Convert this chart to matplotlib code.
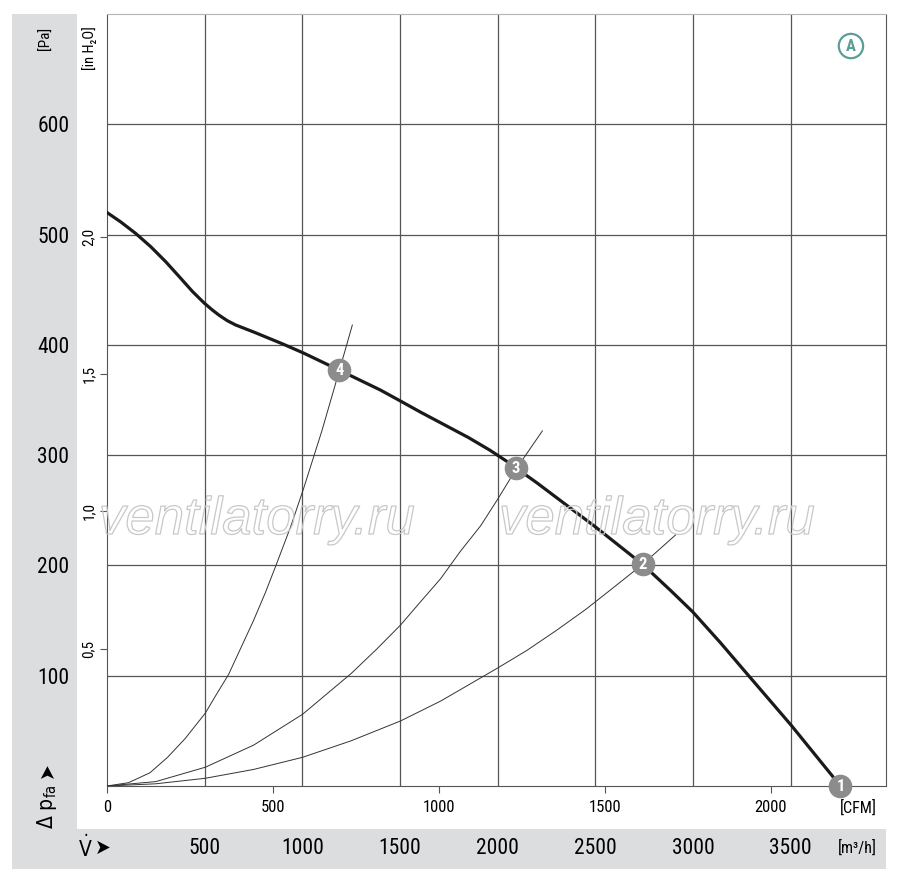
# fan performance curve (pressure vs. air flow) with operating points
import matplotlib
matplotlib.use("Agg")
import matplotlib.pyplot as plt
import matplotlib.patheffects as pe
from matplotlib.patches import Rectangle
from matplotlib.transforms import blended_transform_factory

plt.rcParams['font.family'] = ['Liberation Sans Narrow', 'Roboto Condensed', 'DejaVu Sans']
plt.rcParams['font.stretch'] = 'condensed'

# fan curve, flow in m3/h, pressure in Pa
fan_flow = [0, 70, 147, 224, 300, 369, 437, 497, 540, 573, 615, 659, 753, 904, 1007,
            1190, 1400, 1503, 1605, 1850, 1960, 2050, 2093, 2200, 2320, 2500, 2742,
            2887, 2998, 3140, 3280, 3503, 3755]
fan_pa = [520, 511.5, 501, 489, 475.5, 462, 448.5, 438, 431.5, 427, 422, 418, 411.5,
          400.5, 392.5, 377, 359, 349, 339, 316, 304.5, 294, 288.5, 275, 259, 235, 201,
          177, 158, 130, 101, 55, 0]

# system curves through the operating points
sys4_flow = [0, 110, 220, 310, 400, 503, 560, 622, 690, 750, 810, 865, 940, 1007,
             1100, 1190, 1256]
sys4_pa = [0, 3, 12, 26, 43, 66, 83, 101, 127, 150, 175, 200, 235, 270, 322, 377, 418]
sys3_flow = [0, 250, 503, 750, 1001, 1250, 1380, 1503, 1600, 1708, 1810, 1913, 2000,
             2093, 2229]
sys3_pa = [0, 4, 17, 37, 65, 102, 124, 146, 166, 188, 213, 236, 260, 287, 322]
sys2_flow = [0, 250, 503, 750, 1001, 1250, 1503, 1708, 2000, 2150, 2300, 2450, 2579,
             2742, 2913]
sys2_pa = [0, 2, 7, 15, 26, 41, 59, 77, 107, 123, 141, 160, 178, 201, 228]

op_flow = [3755, 2742, 2093, 1190]
op_pa = [0, 201, 288, 377]
op_labels = ['1', '2', '3', '4']

m3h_ticks = [500, 1000, 1500, 2000, 2500, 3000, 3500]
pa_ticks = [100, 200, 300, 400, 500, 600]
cfm_ticks = [0, 500, 1000, 1500, 2000]
inh2o_ticks = [0.5, 1.0, 1.5, 2.0]
inh2o_labels = ['0,5', '1,0', '1,5', '2,0']

W, H = 900, 880
fig = plt.figure(figsize=(9, 8.8), dpi=100)
band = '#dcdddf'
fig.add_artist(Rectangle((12 / W, 1 - 830 / H), 65 / W, 816 / H, transform=fig.transFigure,
                         color=band, zorder=0, lw=0))
fig.add_artist(Rectangle((12 / W, 1 - 869 / H), 874 / W, 40 / H, transform=fig.transFigure,
                         color=band, zorder=0, lw=0))

ax = fig.add_axes([107 / W, 1 - 786 / H, 779 / W, 772 / H])
ax.set_xlim(0, 3988)
ax.set_ylim(0, 700)

grid_c = '#555555'
ax.set_xticks(m3h_ticks)
ax.set_xticklabels([])
ax.set_yticks(pa_ticks)
ax.set_yticklabels([str(v) for v in pa_ticks], fontsize=15.5)
ax.tick_params(axis='x', length=0)
ax.tick_params(axis='y', length=0, pad=27)
ax.grid(True, color=grid_c, lw=0.9)
ax.set_axisbelow(True)
for s in ['bottom', 'right', 'left']:
    ax.spines[s].set_color(grid_c)
ax.spines['top'].set_color('#b5b5b5')

# m3/h labels in the bottom band
tr = blended_transform_factory(ax.transData, fig.transFigure)
for v in m3h_ticks:
    ax.text(v, 1 - 848 / H, str(v), transform=tr, ha='center', va='center', fontsize=15.5)

# CFM scale
cfm = ax.secondary_xaxis('bottom', functions=(lambda v: v / 1.699, lambda c: c * 1.699))
cfm.set_xticks(cfm_ticks)
cfm.set_xticklabels([str(c) for c in cfm_ticks], fontsize=12)
cfm.tick_params(length=5, color=grid_c, pad=5)
cfm.spines['bottom'].set_visible(False)

# in H2O scale
inh = ax.secondary_yaxis('left', functions=(lambda p: p / 249.09, lambda h: h * 249.09))
inh.set_yticks(inh2o_ticks)
inh.set_yticklabels(inh2o_labels, fontsize=11, rotation=90, va='center')
inh.tick_params(length=5, color=grid_c, pad=3)
inh.spines['left'].set_visible(False)

# watermark
for xc in [257, 657]:
    fig.text(xc / W, 1 - 520 / H, 'ventilatorry.ru', ha='center', va='center',
             fontsize=38, family='Liberation Sans', style='italic', stretch='normal',
             color=(1, 1, 1, 0), zorder=1,
             path_effects=[pe.Stroke(linewidth=0.9, foreground='#c8c8c8')])

ax.plot(sys4_flow, sys4_pa, color='#333333', lw=0.7, zorder=3)
ax.plot(sys3_flow, sys3_pa, color='#333333', lw=0.7, zorder=3)
ax.plot(sys2_flow, sys2_pa, color='#333333', lw=0.7, zorder=3)
ax.plot(fan_flow, fan_pa, color='#1a1a1a', lw=2.3, zorder=4, solid_joinstyle='round')

ax.plot(op_flow, op_pa, 'o', ms=17, color='#8c8c8c', mec='none', clip_on=False, zorder=5)
for v, p, t in zip(op_flow, op_pa, op_labels):
    ax.text(v, p, t, color='white', fontweight='bold', fontsize=12, ha='center',
            va='center', zorder=6, clip_on=False)

teal = '#5b9e97'
ax.text(0.955, 0.9585, 'A', transform=ax.transAxes, ha='center', va='center', color=teal,
        fontweight='bold', fontsize=12,
        bbox=dict(boxstyle='circle,pad=0.28', fc='white', ec=teal, lw=1.6))

# axis units and symbols
fig.text(46 / W, 1 - 38 / H, '[Pa]', rotation=90, ha='center', va='center', fontsize=11)
fig.text(90 / W, 1 - 26 / H, '[in H₂O]', rotation=90, ha='center', va='top', fontsize=10.5)
fig.text(47 / W, 1 - 829 / H, r'$\Delta\ \mathrm{p}_{\mathrm{fa}}$', rotation=90,
         ha='center', va='bottom', fontsize=15)
fig.text(47 / W, 1 - 770 / H, '➤', rotation=90, ha='center', va='center', fontsize=15,
         family='DejaVu Sans')
fig.text(78 / W, 1 - 848 / H, r'$\dot{\mathrm{V}}$', ha='left', va='center', fontsize=15)
fig.text(103 / W, 1 - 848 / H, '➤', ha='center', va='center', fontsize=15,
         family='DejaVu Sans')
fig.text(858 / W, 1 - 808 / H, '[CFM]', ha='center', va='center', fontsize=11.5)
fig.text(857 / W, 1 - 848 / H, '[m³/h]', ha='center', va='center', fontsize=11.5)

fig.savefig('out.png', dpi=100)
